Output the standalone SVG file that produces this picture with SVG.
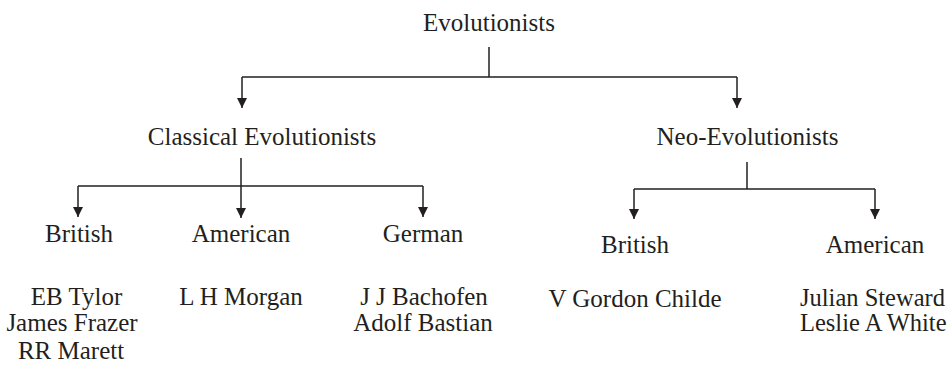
<svg xmlns="http://www.w3.org/2000/svg" width="952" height="368" viewBox="0 0 952 368">
<defs>
<marker id="ah" viewBox="0 0 10 10" refX="10" refY="5" markerWidth="10" markerHeight="10" markerUnits="userSpaceOnUse" orient="auto">
<path d="M0,0 L10,5 L0,10 Z" fill="#231f20"/>
</marker>
</defs>
<rect width="952" height="368" fill="#fff"/>
<g id="connectors" fill="none" stroke="#231f20" stroke-width="1.5">
<path d="M489,47 V77"/>
<path d="M242,77 H737"/>
<path d="M242,77 V108" marker-end="url(#ah)"/>
<path d="M737,77 V108" marker-end="url(#ah)"/>
<path d="M241,158 V218" marker-end="url(#ah)"/>
<path d="M78,186 H423"/>
<path d="M78,186 V217" marker-end="url(#ah)"/>
<path d="M423,186 V217" marker-end="url(#ah)"/>
<path d="M747,162 V189"/>
<path d="M634,189 H875"/>
<path d="M634,189 V219" marker-end="url(#ah)"/>
<path d="M875,189 V219" marker-end="url(#ah)"/>
</g>
<g id="evolutionists"><text font-family="Liberation Serif" font-size="25" fill="#231f20" text-anchor="middle" x="489" y="31">Evolutionists</text></g>
<g id="classical"><text font-family="Liberation Serif" font-size="25" fill="#231f20" text-anchor="middle" x="262" y="145">Classical Evolutionists</text></g>
<g id="neo"><text font-family="Liberation Serif" font-size="25" fill="#231f20" text-anchor="middle" x="747.5" y="145">Neo-Evolutionists</text></g>
<g id="classical-british"><text font-family="Liberation Serif" font-size="25" fill="#231f20" text-anchor="middle" x="79" y="242">British</text></g>
<g id="classical-american"><text font-family="Liberation Serif" font-size="25" fill="#231f20" text-anchor="middle" x="241" y="242">American</text></g>
<g id="classical-german"><text font-family="Liberation Serif" font-size="25" fill="#231f20" text-anchor="middle" x="423" y="242">German</text></g>
<g id="neo-british"><text font-family="Liberation Serif" font-size="25" fill="#231f20" text-anchor="middle" x="635" y="253">British</text></g>
<g id="neo-american"><text font-family="Liberation Serif" font-size="25" fill="#231f20" text-anchor="middle" x="875" y="253">American</text></g>
<g id="british-names">
<text font-family="Liberation Serif" font-size="25" fill="#231f20" text-anchor="middle" x="76.5" y="305">EB Tylor</text>
<text font-family="Liberation Serif" font-size="25" fill="#231f20" text-anchor="middle" x="72" y="331">James Frazer</text>
<text font-family="Liberation Serif" font-size="25" fill="#231f20" text-anchor="middle" x="71" y="359">RR Marett</text>
</g>
<g id="american-names"><text font-family="Liberation Serif" font-size="25" fill="#231f20" text-anchor="middle" x="241" y="305">L H Morgan</text></g>
<g id="german-names">
<text font-family="Liberation Serif" font-size="25" fill="#231f20" text-anchor="middle" x="424" y="305">J J Bachofen</text>
<text font-family="Liberation Serif" font-size="25" fill="#231f20" text-anchor="middle" x="423" y="331">Adolf Bastian</text>
</g>
<g id="neo-british-names"><text font-family="Liberation Serif" font-size="25" fill="#231f20" text-anchor="middle" x="635" y="307">V Gordon Childe</text></g>
<g id="neo-american-names">
<text font-family="Liberation Serif" font-size="24.5" fill="#231f20" x="800" y="306">Julian Steward</text>
<text font-family="Liberation Serif" font-size="24.5" fill="#231f20" x="800" y="331">Leslie A White</text>
</g>
</svg>
